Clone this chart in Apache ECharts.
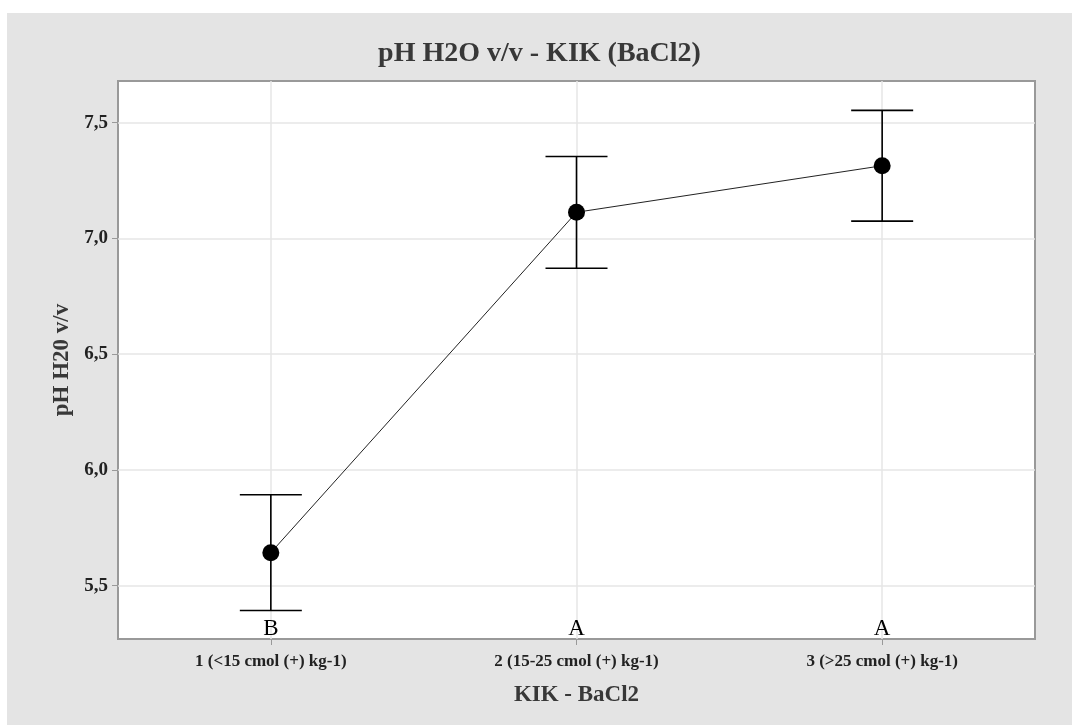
<!DOCTYPE html>
<html>
<head>
<meta charset="utf-8">
<script src="https://cdn.jsdelivr.net/npm/echarts@6/dist/echarts.min.js"></script>
<style>
html,body{margin:0;padding:0;background:#fff;}
#c{position:absolute;left:7px;top:13px;width:1065px;height:712px;background:#e4e4e4;}
</style>
</head>
<body>
<div id="c"></div>
<script>
const categories = ['1 (<15 cmol (+) kg-1)', '2 (15-25 cmol (+) kg-1)', '3 (>25 cmol (+) kg-1)'];
const means = [5.643, 7.113, 7.314];
const upper = [5.893, 7.354, 7.553];
const lower = [5.393, 6.871, 7.075];
const groupLetters = ['B', 'A', 'A'];
const yTicks = [5.5, 6.0, 6.5, 7.0, 7.5];
const yMin = 5.27, yMax = 7.68;

const serif = '"Liberation Serif", "DejaVu Serif", serif';
const chart = echarts.init(document.getElementById('c'), null, {renderer: 'canvas'});

const fmt = v => v.toFixed(1).replace('.', ',');

chart.setOption({
  animation: false,
  backgroundColor: '#e4e4e4',
  title: {
    text: 'pH H2O v/v - KIK (BaCl2)',
    left: 'center', top: 22,
    textStyle: {fontFamily: serif, fontWeight: 'bold', fontSize: 28, color: '#383838'}
  },
  grid: {
    left: 111, top: 68, right: 37, bottom: 86,
    show: true, backgroundColor: '#fff', borderColor: '#999', borderWidth: 2
  },
  xAxis: {
    type: 'category', data: categories, boundaryGap: true,
    name: 'KIK - BaCl2', nameLocation: 'middle', nameGap: 45,
    nameTextStyle: {fontFamily: serif, fontWeight: 'bold', fontSize: 23, color: '#383838'},
    axisLine: {show: false},
    axisTick: {show: true, alignWithLabel: true, length: 6, lineStyle: {color: '#999'}},
    axisLabel: {fontFamily: serif, fontWeight: 'bold', fontSize: 17, color: '#222', margin: 14},
    splitLine: {show: false}
  },
  yAxis: {
    type: 'value', min: yMin, max: yMax,
    name: 'pH H20 v/v', nameLocation: 'middle', nameGap: 44, nameRotate: 90,
    nameTextStyle: {fontFamily: serif, fontWeight: 'bold', fontSize: 23, color: '#383838'},
    axisLine: {show: false},
    axisTick: {show: true, length: 6, lineStyle: {color: '#999'}, customValues: yTicks},
    axisLabel: {fontFamily: serif, fontWeight: 'bold', fontSize: 19, color: '#222', margin: 10,
                customValues: yTicks, formatter: v => fmt(v)},
    splitLine: {show: false}
  },
  series: [
    {
      type: 'line', data: [], z: 1, silent: true,
      markLine: {
        z: 1, silent: true, symbol: 'none', label: {show: false},
        lineStyle: {color: '#e6e6e6', width: 1.5, type: 'solid'},
        data: yTicks.map(v => ({yAxis: v})).concat(categories.map(c => ({xAxis: c})))
      }
    },
    {
      type: 'custom', z: 6,
      data: categories.map((c, i) => [i, lower[i], upper[i]]),
      renderItem: function (params, api) {
        const i = api.value(0);
        const lo = api.coord([i, api.value(1)]);
        const hi = api.coord([i, api.value(2)]);
        const hw = 31;
        const st = {stroke: '#000', lineWidth: 1.6};
        return {type: 'group', children: [
          {type: 'line', shape: {x1: lo[0], y1: lo[1], x2: hi[0], y2: hi[1]}, style: st},
          {type: 'line', shape: {x1: hi[0] - hw, y1: hi[1], x2: hi[0] + hw, y2: hi[1]}, style: st},
          {type: 'line', shape: {x1: lo[0] - hw, y1: lo[1], x2: lo[0] + hw, y2: lo[1]}, style: st}
        ]};
      }
    },
    {
      type: 'line', data: means, z: 7,
      symbol: 'circle', symbolSize: 17,
      itemStyle: {color: '#000'},
      lineStyle: {color: '#222', width: 1}
    },
    {
      type: 'custom', z: 8,
      data: groupLetters.map((l, i) => [i, yMin]),
      renderItem: function (params, api) {
        const p = api.coord([api.value(0), api.value(1)]);
        return {type: 'text', x: p[0], y: p[1] + 1, style: {
          text: groupLetters[params.dataIndex], fontFamily: serif, fontSize: 23,
          fill: '#000', align: 'center', verticalAlign: 'bottom'
        }};
      }
    }
  ]
});
</script>
</body>
</html>
